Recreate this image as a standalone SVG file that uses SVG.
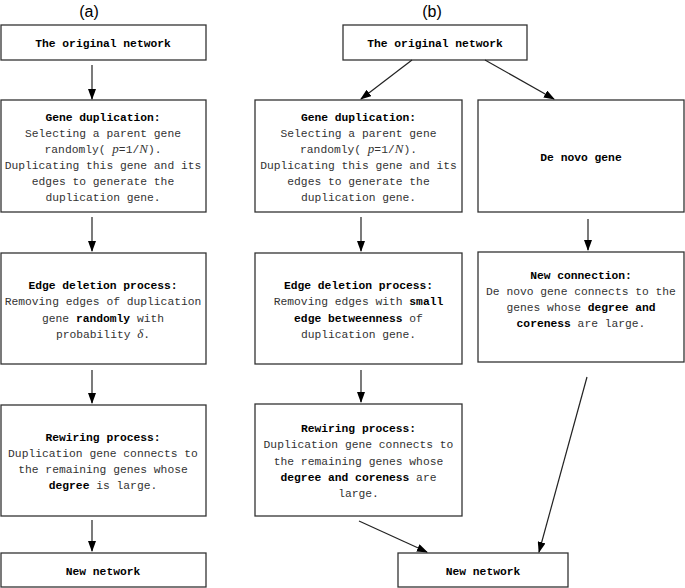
<svg xmlns="http://www.w3.org/2000/svg" width="685" height="588" viewBox="0 0 685 588">
<style>
.box{fill:#fff;stroke:#333;stroke-width:1.3}
.t{font-family:"Liberation Mono","DejaVu Sans Mono",monospace;font-size:11.3px;fill:#333;text-anchor:middle}
.b{font-weight:bold;fill:#000}
.m{font-family:"Liberation Serif","DejaVu Serif",serif;font-style:italic;font-size:13px}
.ttl{font-family:"Liberation Sans","DejaVu Sans",sans-serif;font-size:16px;fill:#000;text-anchor:middle}
.c{stroke:#222;stroke-width:1.2;fill:none;marker-end:url(#ah)}
</style>
<defs>
<marker id="ah" markerUnits="userSpaceOnUse" markerWidth="11" markerHeight="8" refX="10" refY="4" orient="auto">
<path d="M0,0 L11,4 L0,8 z" fill="#000"/>
</marker>
</defs>
<rect width="685" height="588" fill="#fff"/>
<text class="ttl" x="89" y="17">(a)</text>
<text class="ttl" x="432" y="17">(b)</text>

<g id="a_orig">
<rect class="box" x="1" y="25" width="205" height="35"/>
<text class="t b" x="103" y="47">The original network</text>
</g>
<g id="a_dup">
<rect class="box" x="1" y="100" width="205" height="112"/>
<text class="t b" x="103" y="121">Gene duplication:</text>
<text class="t" x="103" y="137">Selecting a parent gene</text>
<text class="t" x="103" y="153">randomly( <tspan class="m">p</tspan>=1/<tspan class="m">N</tspan>).</text>
<text class="t" x="103" y="169">Duplicating this gene and its</text>
<text class="t" x="103" y="185">edges to generate the</text>
<text class="t" x="103" y="201">duplication gene.</text>
</g>
<g id="a_del">
<rect class="box" x="1" y="253" width="205" height="111"/>
<text class="t b" x="103" y="289">Edge deletion process:</text>
<text class="t" x="103" y="305">Removing edges of duplication</text>
<text class="t" x="103" y="322">gene <tspan class="b">randomly</tspan> with</text>
<text class="t" x="103" y="338">probability <tspan class="m">δ</tspan>.</text>
</g>
<g id="a_rew">
<rect class="box" x="1" y="405" width="205" height="111"/>
<text class="t b" x="103" y="441">Rewiring process:</text>
<text class="t" x="103" y="457">Duplication gene connects to</text>
<text class="t" x="103" y="473">the remaining genes whose</text>
<text class="t" x="103" y="489"><tspan class="b">degree</tspan> is large.</text>
</g>
<g id="a_new">
<rect class="box" x="1" y="553" width="205" height="34"/>
<text class="t b" x="103" y="575">New network</text>
</g>

<g id="b_orig">
<rect class="box" x="343" y="25" width="184" height="35"/>
<text class="t b" x="435" y="47">The original network</text>
</g>
<g id="b_dup">
<rect class="box" x="255" y="100" width="207" height="112"/>
<text class="t b" x="358.5" y="121">Gene duplication:</text>
<text class="t" x="358.5" y="137">Selecting a parent gene</text>
<text class="t" x="358.5" y="153">randomly( <tspan class="m">p</tspan>=1/<tspan class="m">N</tspan>).</text>
<text class="t" x="358.5" y="169">Duplicating this gene and its</text>
<text class="t" x="358.5" y="185">edges to generate the</text>
<text class="t" x="358.5" y="201">duplication gene.</text>
</g>
<g id="b_denovo">
<rect class="box" x="478" y="100" width="206" height="112"/>
<text class="t b" x="581" y="161">De novo gene</text>
</g>
<g id="b_del">
<rect class="box" x="255" y="253" width="207" height="111"/>
<text class="t b" x="358.5" y="289">Edge deletion process:</text>
<text class="t" x="358.5" y="305">Removing edges with <tspan class="b">small</tspan></text>
<text class="t" x="358.5" y="322"><tspan class="b">edge betweenness</tspan> of</text>
<text class="t" x="358.5" y="338">duplication gene.</text>
</g>
<g id="b_conn">
<rect class="box" x="478" y="252" width="206" height="110"/>
<text class="t b" x="581" y="279">New connection:</text>
<text class="t" x="581" y="295">De novo gene connects to the</text>
<text class="t" x="581" y="311">genes whose <tspan class="b">degree and</tspan></text>
<text class="t" x="581" y="327"><tspan class="b">coreness</tspan> are large.</text>
</g>
<g id="b_rew">
<rect class="box" x="255" y="404" width="207" height="112"/>
<text class="t b" x="358.5" y="432">Rewiring process:</text>
<text class="t" x="358.5" y="448">Duplication gene connects to</text>
<text class="t" x="358.5" y="465">the remaining genes whose</text>
<text class="t" x="358.5" y="481"><tspan class="b">degree and coreness</tspan> are</text>
<text class="t" x="358.5" y="497">large.</text>
</g>
<g id="b_new">
<rect class="box" x="398" y="553" width="170" height="34"/>
<text class="t b" x="483" y="575">New network</text>
</g>

<g id="connectors">
<line class="c" x1="92" y1="65" x2="92" y2="99"/>
<line class="c" x1="92" y1="217" x2="92" y2="251"/>
<line class="c" x1="92" y1="370" x2="92" y2="403"/>
<line class="c" x1="92" y1="520" x2="92" y2="551"/>
<line class="c" x1="412" y1="60" x2="361" y2="99"/>
<line class="c" x1="485" y1="60" x2="554" y2="99"/>
<line class="c" x1="361" y1="217" x2="361" y2="251"/>
<line class="c" x1="361" y1="370" x2="361" y2="402"/>
<line class="c" x1="588" y1="219" x2="588" y2="250"/>
<line class="c" x1="359" y1="521" x2="427" y2="552"/>
<line class="c" x1="587" y1="377" x2="539" y2="552"/>
</g>
</svg>
